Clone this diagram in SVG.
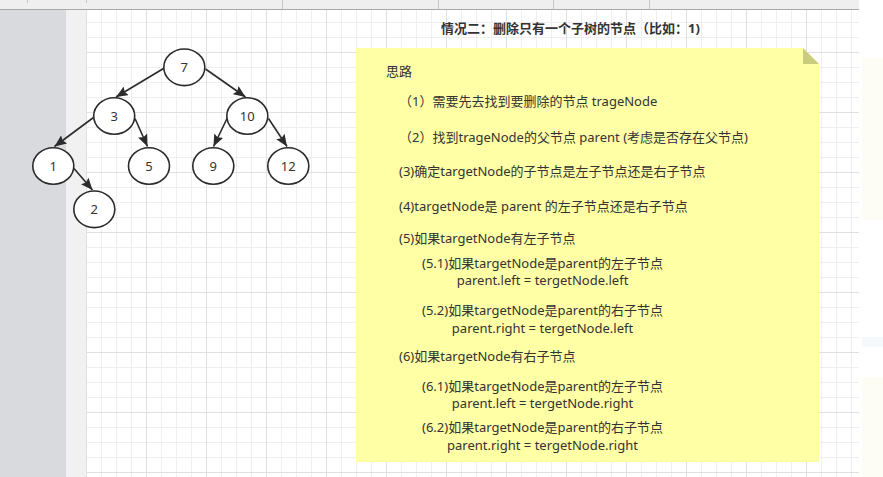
<svg xmlns="http://www.w3.org/2000/svg" width="883" height="477" viewBox="0 0 883 477">
<style>
.node ellipse{fill:#ffffff;stroke:#2b2b2b;stroke-width:1.6}
.node text{font-family:"Noto Sans","Noto Sans CJK SC",sans-serif;font-size:13px;fill:#333333;text-anchor:middle}
.edge{stroke:#2b2b2b;stroke-width:1.6;fill:none;marker-end:url(#arr)}
.t{font-family:"Noto Sans","Noto Sans CJK SC",sans-serif;font-size:13px;fill:#333333}
.c{text-anchor:middle}
.title{font-family:"Noto Sans","Noto Sans CJK SC",sans-serif;font-size:13px;font-weight:bold;fill:#333333}
</style>
<defs>
<pattern id="grid" x="86" y="-8" width="60" height="60" patternUnits="userSpaceOnUse">
<rect width="60" height="60" fill="#ffffff"/>
<g fill="#efefef">
<rect x="15" y="0" width="1" height="60"/><rect x="30" y="0" width="1" height="60"/><rect x="45" y="0" width="1" height="60"/>
<rect x="0" y="15" width="60" height="1"/><rect x="0" y="30" width="60" height="1"/><rect x="0" y="45" width="60" height="1"/>
</g>
<g fill="#e0e0e0">
<rect x="0" y="0" width="1" height="60"/><rect x="0" y="0" width="60" height="1"/>
</g>
</pattern>
<marker id="arr" markerUnits="userSpaceOnUse" markerWidth="12" markerHeight="10" viewBox="0 0 12 10" refX="12" refY="5" orient="auto">
<path d="M0,0 L12,5 L0,10 L2,5 z" fill="#2b2b2b"/>
</marker>
</defs>
<g id="background">
<rect x="0" y="0" width="883" height="477" fill="#ffffff"/>
<rect x="0" y="0" width="66" height="477" fill="#d9dadd"/>
<rect x="66" y="0" width="20" height="477" fill="#f1f1f1"/>
<rect x="86" y="10" width="773" height="467" fill="url(#grid)"/>
<rect x="0" y="0" width="859" height="9" fill="#efefef"/>
<rect x="0" y="9" width="859" height="1" fill="#a9a9a9"/>
<g fill="#c8c8c8">
<rect x="27" y="0" width="1" height="3"/><rect x="86" y="0" width="1" height="3"/>
<rect x="282" y="0" width="1" height="9"/><rect x="438" y="0" width="1" height="9"/>
<rect x="553" y="0" width="1" height="9"/><rect x="649" y="0" width="1" height="9"/>
</g>
<rect x="862" y="58" width="21" height="162" fill="#fdfdf6"/>
<rect x="862" y="337" width="21" height="10" fill="#f6f9fb"/>
<rect x="862" y="377" width="21" height="100" fill="#fdfdf6"/>
</g>
<g id="connectors">
<line class="edge" x1="163.5" y1="68.5" x2="116" y2="97"/>
<line class="edge" x1="205.5" y1="69" x2="245.5" y2="97"/>
<line class="edge" x1="93.5" y1="117.5" x2="54.5" y2="146.5"/>
<line class="edge" x1="135" y1="118.5" x2="147.5" y2="146.5"/>
<line class="edge" x1="227.5" y1="117.5" x2="213.5" y2="146.5"/>
<line class="edge" x1="268.5" y1="118.5" x2="287" y2="146.5"/>
<line class="edge" x1="74" y1="168.5" x2="92.5" y2="190"/>
</g>
<g id="n7" class="node"><ellipse cx="184.3" cy="67.3" rx="20.5" ry="18.3"/><text x="184.3" y="72">7</text></g>
<g id="n3" class="node"><ellipse cx="114.2" cy="116" rx="20.5" ry="18.3"/><text x="114.2" y="120.5">3</text></g>
<g id="n10" class="node"><ellipse cx="247.3" cy="116" rx="20.5" ry="18.3"/><text x="247.3" y="120.5">10</text></g>
<g id="n1" class="node"><ellipse cx="53.3" cy="166" rx="20.5" ry="18.3"/><text x="53.3" y="170.5">1</text></g>
<g id="n5" class="node"><ellipse cx="149" cy="166" rx="20.5" ry="18.3"/><text x="149" y="170.5">5</text></g>
<g id="n9" class="node"><ellipse cx="213.3" cy="166" rx="20.5" ry="18.3"/><text x="213.3" y="170.5">9</text></g>
<g id="n12" class="node"><ellipse cx="288.3" cy="166" rx="20.5" ry="18.3"/><text x="288.3" y="170.5">12</text></g>
<g id="n2" class="node"><ellipse cx="94.3" cy="209.3" rx="20.5" ry="18.3"/><text x="94.3" y="213.8">2</text></g>
<g id="title"><text class="title" x="441" y="32.5">情况二：删除只有一个子树的节点（比如：1)</text></g>
<g id="note">
<polygon points="356,48 803,48 819,64 819,462 356,462" fill="#ffffa6"/>
<polygon points="803,48 803,64 819,64" fill="#cbcb7d"/>
<text class="t" x="386" y="75.5">思路</text>
<text class="t" x="399" y="106">（1）需要先去找到要删除的节点 trageNode</text>
<text class="t" x="399" y="141.5">（2）找到trageNode的父节点 parent (考虑是否存在父节点)</text>
<text class="t" x="399" y="176">(3)确定targetNode的子节点是左子节点还是右子节点</text>
<text class="t" x="399" y="211">(4)targetNode是 parent 的左子节点还是右子节点</text>
<text class="t" x="399" y="242.5">(5)如果targetNode有左子节点</text>
<text class="t c" x="542.5" y="267.5">(5.1)如果targetNode是parent的左子节点</text>
<text class="t c" x="542.5" y="285">parent.left = tergetNode.left</text>
<text class="t c" x="542.5" y="315">(5.2)如果targetNode是parent的右子节点</text>
<text class="t c" x="542.5" y="333">parent.right = tergetNode.left</text>
<text class="t" x="399" y="361">(6)如果targetNode有右子节点</text>
<text class="t c" x="542.5" y="390.5">(6.1)如果targetNode是parent的左子节点</text>
<text class="t c" x="542.5" y="408">parent.left = tergetNode.right</text>
<text class="t c" x="542.5" y="432">(6.2)如果targetNode是parent的右子节点</text>
<text class="t c" x="542.5" y="450">parent.right = tergetNode.right</text>
</g>
</svg>
